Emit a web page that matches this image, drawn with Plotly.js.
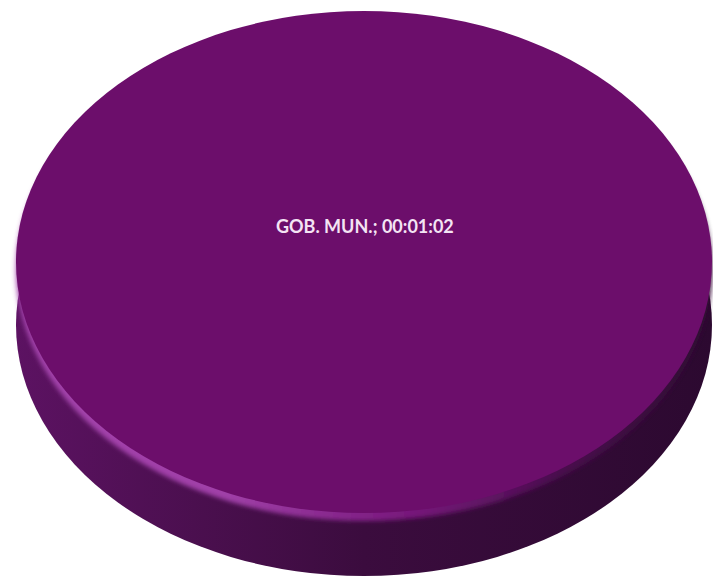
<!DOCTYPE html>
<html>
<head>
<meta charset="utf-8">
<script src="https://cdn.plot.ly/plotly-3.0.1.min.js"></script>
<style>
html,body{margin:0;padding:0;background:#fff;}
#chart{width:713px;height:583px;}
</style>
</head>
<body>
<div id="chart"></div>
<script>
// ---- data ----
const labels = ['GOB. MUN.'];
const values = [62];            // seconds
const valueText = ['00:01:02']; // displayed duration

// ---- geometry / style (not data) ----
const W = 713, H = 583;
const cx = 364;          // disc centre x
const topCy = 262;       // top face centre y
const depth = 63;        // disc thickness
const ry = 251, rx = 348;
const sx = rx / ry;
const bevel = 8;         // bevel highlight offset

function domainFor(cy, r) {
  return {
    x: [(cx - r) / W, (cx + r) / W],
    y: [(H - cy - r) / H, (H - cy + r) / H]
  };
}
function pieTrace(cy, r, color) {
  return {
    type: 'pie',
    labels: labels,
    values: values,
    sort: false,
    textinfo: 'none',
    hoverinfo: 'none',
    showlegend: false,
    marker: {colors: [color], line: {width: 0}},
    domain: domainFor(cy, r)
  };
}

const data = [
  pieTrace(topCy + depth, ry, '#461049'),   // side
  pieTrace(topCy + bevel, ry, '#8a2a90'),   // bevel highlight
  pieTrace(topCy, ry, '#6c0e6b')            // top face
];

const layout = {
  width: W, height: H,
  margin: {l: 0, r: 0, t: 0, b: 0},
  paper_bgcolor: '#ffffff',
  showlegend: false,
  annotations: [{
    x: 365 / W, y: (H - 226) / H, xref: 'paper', yref: 'paper',
    text: labels[0] + '; ' + valueText[0],
    showarrow: false,
    font: {family: 'Lato, "Open Sans", sans-serif', size: 18, color: '#f4e4f4', weight: 'bold'},
    xanchor: 'center', yanchor: 'middle'
  }]
};

Plotly.newPlot('chart', data, layout, {staticPlot: true, displayModeBar: false}).then(function (gd) {
  const NS = 'http://www.w3.org/2000/svg';
  const svg = gd.querySelector('.main-svg');
  let defs = svg.querySelector('defs');
  if (!defs) { defs = document.createElementNS(NS, 'defs'); svg.insertBefore(defs, svg.firstChild); }
  function grad(id, stops) {
    const g = document.createElementNS(NS, 'linearGradient');
    g.setAttribute('id', id);
    g.setAttribute('x1', '0'); g.setAttribute('x2', '1');
    g.setAttribute('y1', '0'); g.setAttribute('y2', '0');
    stops.forEach(function (s) {
      const st = document.createElementNS(NS, 'stop');
      st.setAttribute('offset', s[0]);
      st.setAttribute('stop-color', s[1]);
      g.appendChild(st);
    });
    defs.appendChild(g);
  }
  grad('sideGrad', [[0, '#5c1262'], [0.27, '#4a0f4e'], [0.5, '#3b0c3e'], [1, '#2c0930']]);
  grad('rimGrad', [[0, '#a343ab'], [0.3, '#a040a8'], [0.55, '#7a1a7e'], [0.78, '#4a0d4e'], [1, '#300a33']]);
  const f = document.createElementNS(NS, 'filter');
  f.setAttribute('id', 'soft');
  f.setAttribute('x', '-5%'); f.setAttribute('y', '-5%');
  f.setAttribute('width', '110%'); f.setAttribute('height', '110%');
  const b = document.createElementNS(NS, 'feGaussianBlur');
  b.setAttribute('stdDeviation', '2');
  f.appendChild(b);
  defs.appendChild(f);

  const layer = gd.querySelector('.pielayer');
  layer.setAttribute('transform', 'translate(' + cx + ',0) scale(' + sx + ',1) translate(' + (-cx) + ',0)');
  const traces = layer.querySelectorAll('g.trace');
  const fills = ['url(#sideGrad)', 'url(#rimGrad)', null];
  traces.forEach(function (t, i) {
    t.querySelectorAll('path.surface').forEach(function (p) {
      if (fills[i]) p.style.fill = fills[i];
      if (i === 1) p.setAttribute('filter', 'url(#soft)');
    });
  });
});
</script>
</body>
</html>
